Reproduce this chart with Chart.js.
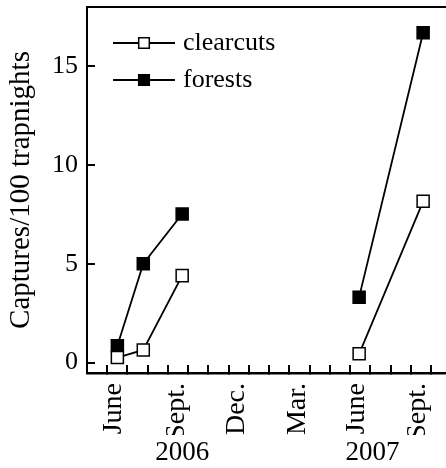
<!DOCTYPE html>
<html>
<head>
<meta charset="utf-8">
<script src="https://cdn.jsdelivr.net/npm/chart.js@4.4.1/dist/chart.umd.min.js"></script>
<style>
  html, body { margin: 0; padding: 0; background: #fff; }
  #wrap { width: 446px; height: 468px; }
</style>
</head>
<body>
<div id="wrap"><canvas id="c"></canvas></div>
<script>
// x = months counted from 1 June 2006
const sampleMonths2006 = [0.5, 1.78, 3.7];
const sampleMonths2007 = [12.44, 15.6];
const clearcuts2006 = [0.25, 0.64, 4.4];
const clearcuts2007 = [0.44, 8.16];
const forests2006 = [0.85, 5.0, 7.52];
const forests2007 = [3.31, 16.7];

const seriesNames = ['clearcuts', 'forests'];
const yTicks = [0, 5, 10, 15];
const monthTicks = [0, 1, 2, 3, 4, 5, 6, 7, 8, 9, 10, 11, 12, 13, 14, 15, 16];
const monthLabelPos = [0.3, 3.45, 6.4, 9.4, 12.3, 15.35];
const monthLabels = ['June', 'Sept.', 'Dec.', 'Mar.', 'June', 'Sept.'];
const yearLabelPos = [3.7, 13.1];
const yearLabels = ['2006', '2007'];

const FONT = '"Liberation Serif", "Times New Roman", serif';
const X_MIN = -1, X_MAX = 16.73;

// build points, a null point breaks the line between the two years
function buildSeries(m1, v1, m2, v2) {
    const pts = m1.map((m, i) => ({ x: m, y: v1[i] }));
    pts.push({ x: null, y: null });
    m2.forEach((m, i) => pts.push({ x: m, y: v2[i] }));
    return pts;
}

const setTicks = values => scale => { scale.ticks = values.map(v => ({ value: v })); };
const noPad = s => { s.paddingLeft = 0; s.paddingRight = 0; s.paddingTop = 0; s.paddingBottom = 0; };

// legend drawn inside the plot, top-left
const insideLegend = {
    id: 'insideLegend',
    afterDatasetsDraw(chart) {
        const { ctx, chartArea } = chart;
        chart.data.datasets.forEach((ds, i) => {
            const x0 = chartArea.left + 26;
            const y = chartArea.top + 36 + i * 37;
            ctx.save();
            ctx.strokeStyle = '#000';
            ctx.lineWidth = 1.8;
            ctx.beginPath();
            ctx.moveTo(x0, y);
            ctx.lineTo(x0 + 62, y);
            ctx.stroke();
            ctx.fillStyle = ds.pointBackgroundColor;
            ctx.lineWidth = 1.5;
            Chart.helpers.drawPoint(ctx, { pointStyle: 'rect', radius: 7.5, borderWidth: 1.5, rotation: 0 }, x0 + 31, y);
            ctx.fillStyle = '#000';
            ctx.font = '26px ' + FONT;
            ctx.textBaseline = 'middle';
            ctx.textAlign = 'left';
            ctx.fillText(ds.label, x0 + 70, y);
            ctx.restore();
        });
    }
};

const commonDs = {
    borderColor: '#000',
    borderWidth: 1.8,
    pointStyle: 'rect',
    pointRadius: 8.5,
    pointHoverRadius: 8.5,
    pointBorderWidth: 1.5,
    pointBorderColor: '#000',
    spanGaps: false,
    clip: false,
    tension: 0
};

new Chart(document.getElementById('c'), {
    type: 'line',
    data: {
        datasets: [
            { ...commonDs, label: seriesNames[0], data: buildSeries(sampleMonths2006, clearcuts2006, sampleMonths2007, clearcuts2007), pointBackgroundColor: '#fff' },
            { ...commonDs, label: seriesNames[1], data: buildSeries(sampleMonths2006, forests2006, sampleMonths2007, forests2007), pointBackgroundColor: '#000' }
        ]
    },
    options: {
        responsive: true,
        maintainAspectRatio: false,
        animation: false,
        devicePixelRatio: 1,
        layout: { autoPadding: false, padding: { top: 7, left: 0, right: 0, bottom: 0 } },
        plugins: { legend: { display: false }, tooltip: { enabled: false } },
        scales: {
            y: {
                type: 'linear', position: 'left', min: -0.53, max: 18,
                afterBuildTicks: setTicks(yTicks),
                afterFit: s => { s.width = 87; noPad(s); },
                grid: { drawOnChartArea: false, tickLength: -8, color: '#000', lineWidth: 2 },
                border: { color: '#000', width: 2 },
                ticks: { color: '#000', padding: 17, font: { family: FONT, size: 26 } },
                title: { display: true, text: 'Captures/100 trapnights', color: '#000', font: { family: FONT, size: 29 }, padding: { top: 4, bottom: 0 } }
            },
            x: {
                type: 'linear', position: 'bottom', min: X_MIN, max: X_MAX,
                afterBuildTicks: setTicks(monthTicks),
                afterFit: s => { s.height = 0; noPad(s); },
                grid: { drawOnChartArea: false, tickLength: -8, color: '#000', lineWidth: 2 },
                border: { color: '#000', width: 2.5 },
                ticks: { display: false }
            },
            xl: {
                type: 'linear', position: 'bottom', min: X_MIN, max: X_MAX,
                afterBuildTicks: setTicks(monthLabelPos),
                afterFit: s => { s.height = 62; noPad(s); },
                grid: { display: false, drawTicks: false },
                border: { display: false },
                ticks: { color: '#000', padding: 10, autoSkip: false, minRotation: 90, maxRotation: 90,
                         font: { family: FONT, size: 28 }, callback: (v, i) => monthLabels[i] }
            },
            xy: {
                type: 'linear', position: 'bottom', min: X_MIN, max: X_MAX,
                afterBuildTicks: setTicks(yearLabelPos),
                afterFit: s => { s.height = 33; noPad(s); },
                grid: { display: false, drawTicks: false },
                border: { display: false },
                ticks: { color: '#000', padding: 2, autoSkip: false, maxRotation: 0,
                         font: { family: FONT, size: 27 }, callback: (v, i) => yearLabels[i] }
            },
            xt: {
                type: 'linear', position: 'top', min: X_MIN, max: X_MAX,
                afterFit: s => { s.height = 0; noPad(s); },
                grid: { display: false, drawTicks: false },
                border: { display: true, color: '#000', width: 2 },
                ticks: { display: false }
            }
        }
    },
    plugins: [insideLegend]
});
</script>
</body>
</html>
